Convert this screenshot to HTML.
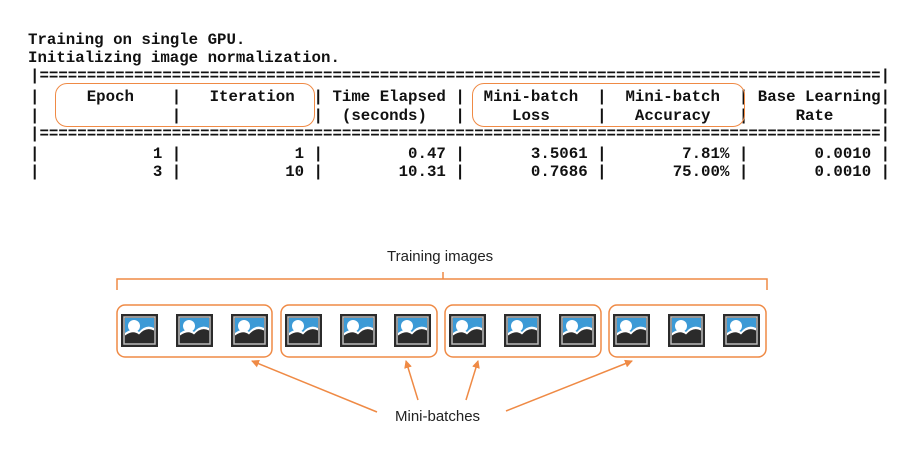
<!DOCTYPE html>
<html><head><meta charset="utf-8"><style>
body{margin:0;width:922px;height:454px;background:#fff;position:relative;overflow:hidden}
.m{position:absolute;left:30px;font-family:"Liberation Mono",monospace;font-weight:bold;font-size:15.75px;white-space:pre;line-height:18px;color:#111}
.ob{position:absolute;border:1.5px solid #ef8a45;border-radius:12px}
.s{position:absolute;font-family:"Liberation Sans",sans-serif;font-size:15px;color:#222}
</style></head><body>
<div class="m" style="top:31px;left:28px">Training on single GPU.</div>
<div class="m" style="top:49px;left:28px">Initializing image normalization.</div>
<div class="m" style="top:67px">|=========================================================================================|</div>
<div class="m" style="top:88px">|     Epoch    |   Iteration  | Time Elapsed |  Mini-batch  |  Mini-batch  | Base Learning|</div>
<div class="m" style="top:107px">|              |              |  (seconds)   |     Loss     |   Accuracy   |     Rate     |</div>
<div class="m" style="top:125px">|=========================================================================================|</div>
<div class="m" style="top:145px">|            1 |            1 |         0.47 |       3.5061 |        7.81% |       0.0010 |</div>
<div class="m" style="top:163px">|            3 |           10 |        10.31 |       0.7686 |       75.00% |       0.0010 |</div>
<div class="ob" style="left:55px;top:83px;width:258px;height:42px"></div>
<div class="ob" style="left:472px;top:83px;width:271px;height:42px"></div>
<div class="s" style="left:387px;top:248px">Training images</div>
<div class="s" style="left:395px;top:408px">Mini-batches</div>
<svg width="922" height="454" style="position:absolute;left:0;top:0">
<defs>
<marker id="a" markerWidth="8" markerHeight="8" refX="7" refY="4" orient="auto" markerUnits="userSpaceOnUse"><path d="M0,0 L8,4 L0,8 z" fill="#ef8a45"/></marker>
<g id="ic"><rect x="0" y="0" width="37" height="33" fill="#2b2b2b"/><rect x="3" y="3" width="31" height="27" fill="none" stroke="#bbb" stroke-width="1.5"/><rect x="4" y="4" width="29" height="25" fill="#3c9ad6"/><circle cx="13" cy="12" r="6" fill="#fff"/><path d="M4,19 Q12,13 18,18 Q25,10 33,14 L33,29 L4,29z" fill="#fff"/><path d="M4,21.5 Q12,15.5 18,20.5 Q25,12.5 33,16.5 L33,29 L4,29z" fill="#2b2b2b"/></g>
</defs>
<path d="M117,290 V279 H767 V290 M443,279 V272" fill="none" stroke="#ef8a45" stroke-width="1.5"/>
<g fill="none" stroke="#ef8a45" stroke-width="1.5">
<rect x="117" y="305" width="155" height="52" rx="8"/>
<rect x="281" y="305" width="156" height="52" rx="8"/>
<rect x="445" y="305" width="156" height="52" rx="8"/>
<rect x="609" y="305" width="157" height="52" rx="8"/>
<line x1="377" y1="412" x2="252" y2="361" marker-end="url(#a)"/>
<line x1="418" y1="400" x2="406" y2="361" marker-end="url(#a)"/>
<line x1="466" y1="400" x2="478" y2="361" marker-end="url(#a)"/>
<line x1="506" y1="411" x2="632" y2="361" marker-end="url(#a)"/>
</g>
<use href="#ic" x="121" y="314"/><use href="#ic" x="176" y="314"/><use href="#ic" x="231" y="314"/>
<use href="#ic" x="285" y="314"/><use href="#ic" x="340" y="314"/><use href="#ic" x="394" y="314"/>
<use href="#ic" x="449" y="314"/><use href="#ic" x="504" y="314"/><use href="#ic" x="559" y="314"/>
<use href="#ic" x="613" y="314"/><use href="#ic" x="668" y="314"/><use href="#ic" x="723" y="314"/>
</svg>
</body></html>
